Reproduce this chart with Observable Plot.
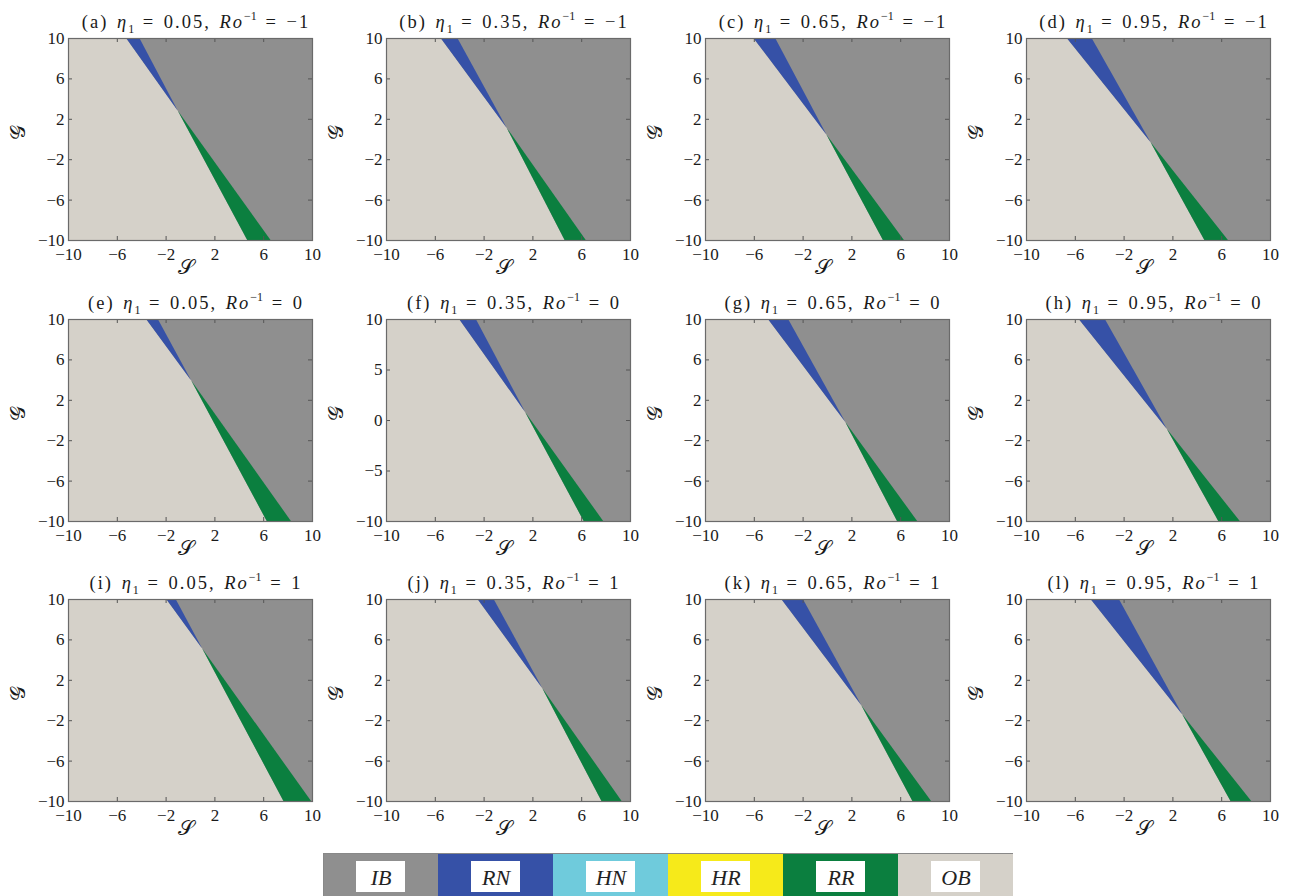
<!DOCTYPE html>
<html><head><meta charset="utf-8">
<script src="https://cdn.jsdelivr.net/npm/d3@7"></script>
<script src="https://cdn.jsdelivr.net/npm/@observablehq/plot@0.6"></script>
<style>
html,body{margin:0;padding:0;background:#fff;}
body{width:1291px;height:896px;position:relative;overflow:hidden;font-family:"Liberation Serif","DejaVu Serif",serif;color:#1a1a1a;}
.chart{position:absolute;}
.title{position:absolute;font-size:18.5px;white-space:nowrap;text-align:center;letter-spacing:2.0px;word-spacing:2px;line-height:20px;}
.title sub,.title sup{font-size:12px;letter-spacing:0;}
.title sup{position:relative;top:-1px}
</style></head><body>
<script>
// ---- data ----
const panelLetters = ["a","b","c","d","e","f","g","h","i","j","k","l"];
const eta1Values   = ["0.05","0.35","0.65","0.95","0.05","0.35","0.65","0.95","0.05","0.35","0.65","0.95"];
const roInvValues  = [-1,-1,-1,-1,0,0,0,0,1,1,1,1];
// S where the RN band meets G = 10 (left / right edge)
const rnTopLeft    = [-5.24,-5.52,-6.03,-6.66,-3.60,-4.01,-4.84,-5.68,-1.95,-2.50,-3.75,-4.71];
const rnTopRight   = [-4.15,-4.15,-4.25,-4.62,-2.64,-2.64,-3.19,-3.54,-1.18,-1.18,-1.98,-2.39];
// point where the two boundaries cross (S, G)
const crossS       = [-1.0,-0.1,-0.05,0.2,0.1,1.4,1.5,1.55,1.0,2.8,2.8,2.8];
const crossG       = [2.8,1.1,0.45,-0.3,3.9,0.8,-0.2,-0.9,5.1,1.2,-0.5,-1.4];
// S where the RR band meets G = -10 (left / right edge)
const rrBottomLeft = [4.69,4.64,4.58,4.62,6.29,6.20,5.74,5.76,7.66,7.66,7.00,6.76];
const rrBottomRight= [6.60,6.37,6.30,6.55,8.27,7.80,7.39,7.52,9.92,9.31,8.53,8.46];
const sRange = [-10,10];
const gRange = [-10,10];
const ticksDefault = [-10,-6,-2,2,6,10];
const ticksF = [-10,-5,0,5,10];
const regimeNames  = ["IB","RN","HN","HR","RR","OB"];
const regimeColors = ["#8f8f8f","#3651a7","#6fcbdc","#f6ea1a","#0b7f3f","#d5d1c9"];
const colorOf = Object.fromEntries(regimeNames.map((n,i)=>[n,regimeColors[i]]));

// ---- layout ----
const frameLeft = [68,386,705,1026];
const frameTop  = [38,319,599];
const FW = 244, FH = 202;
const ML = 60, MR = 12, MT = 8, MB = 42;
const font = '"Liberation Serif","DejaVu Serif",serif';
const scriptFont = '"DejaVu Serif","DejaVu Sans",serif';

function makePanel(i){
  const col = i % 4, row = Math.floor(i/4);
  const tl=rnTopLeft[i], tr=rnTopRight[i], cx=crossS[i], cy=crossG[i], bl=rrBottomLeft[i], br=rrBottomRight[i];
  const [s0,s1] = sRange, [g0,g1] = gRange;
  const ob=[{g:g1,a:s0,b:tl},{g:cy,a:s0,b:cx},{g:g0,a:s0,b:bl}];
  const rn=[{g:g1,a:tl,b:tr},{g:cy,a:cx,b:cx}];
  const rr=[{g:cy,a:cx,b:cx},{g:g0,a:bl,b:br}];
  const ib=[{g:g1,a:tr,b:s1},{g:cy,a:cx,b:s1},{g:g0,a:br,b:s1}];
  const xt = ticksDefault;
  const yt = panelLetters[i]==="f" ? ticksF : ticksDefault;
  const plot = Plot.plot({
    width: ML+FW+MR, height: MT+FH+MB,
    marginLeft: ML, marginRight: MR, marginTop: MT, marginBottom: MB,
    style:{fontFamily:font,color:"#1a1a1a",background:"transparent",overflow:"visible"},
    x:{domain:sRange},
    y:{domain:gRange},
    marks:[
      Plot.frame({fill:colorOf.IB}),
      Plot.areaX(ib,{y:"g",x1:"a",x2:"b",fill:colorOf.IB}),
      Plot.areaX(ob,{y:"g",x1:"a",x2:"b",fill:colorOf.OB}),
      Plot.areaX(rn,{y:"g",x1:"a",x2:"b",fill:colorOf.RN}),
      Plot.areaX(rr,{y:"g",x1:"a",x2:"b",fill:colorOf.RR}),
      Plot.tickX(xt,{x:d=>d,insetBottom:FH-4,stroke:"#555"}),
      Plot.tickX(xt,{x:d=>d,insetTop:FH-4,stroke:"#555"}),
      Plot.tickY(yt,{y:d=>d,insetRight:FW-4,stroke:"#555"}),
      Plot.tickY(yt,{y:d=>d,insetLeft:FW-4,stroke:"#555"}),
      Plot.frame({stroke:"#6a6a6a",strokeWidth:1.2}),
      Plot.axisX(xt,{anchor:"bottom",tickSize:0,tickPadding:7,label:null}),
      Plot.axisY(yt,{anchor:"left",tickSize:0,tickPadding:4,label:null}),
      Plot.text(["𝒮"],{text:d=>d,frameAnchor:"bottom",dx:-5,dy:33,fontSize:21,fontFamily:scriptFont}),
      Plot.text(["𝒢"],{text:d=>d,frameAnchor:"left",dx:-50,rotate:-90,fontSize:21,fontFamily:scriptFont})
    ]
  });
  // enlarge the numeric tick labels (serif, like the reference)
  plot.querySelectorAll("text").forEach(el => {
    const s = el.textContent;
    if (s !== "𝒮" && s !== "𝒢") { el.style.fontSize = "17px"; el.style.fontFamily = font; }
  });
  plot.classList.add("chart");
  plot.style.left = (frameLeft[col]-ML)+"px";
  plot.style.top = (frameTop[row]-MT)+"px";
  document.body.appendChild(plot);

  const t = document.createElement("div");
  t.className = "title";
  t.style.left = (frameLeft[col]-40+6)+"px";
  t.style.width = (FW+80)+"px";
  t.style.top = (frameTop[row]-31)+"px";
  const ro = roInvValues[i] < 0 ? "\u2212"+Math.abs(roInvValues[i]) : String(roInvValues[i]);
  t.innerHTML = `(${panelLetters[i]}) <i>η</i><sub>1</sub> = ${eta1Values[i]}, <i>Ro</i><sup>\u22121</sup> = ${ro}`;
  document.body.appendChild(t);
}
for (let i=0;i<12;i++) makePanel(i);

// ---- legend ----
const legend = Plot.plot({
  width: 690, height: 44, margin: 0,
  style:{fontFamily:font,background:"transparent"},
  x:{type:"band",domain:regimeNames,padding:0,axis:null},
  marks:[
    Plot.cell(regimeNames,{x:d=>d,fill:d=>colorOf[d]}),
    Plot.cell(regimeNames,{x:d=>d,fill:"white",insetLeft:33,insetRight:33,insetTop:8,insetBottom:5}),
    Plot.text(regimeNames,{x:d=>d,text:d=>d,fontSize:22,fontStyle:"italic",fill:"#222",dy:2}),
    Plot.frame({stroke:"#888"})
  ]
});
legend.classList.add("chart");
legend.style.left = "323px";
legend.style.top = "853px";
document.body.appendChild(legend);
</script>
</body></html>
